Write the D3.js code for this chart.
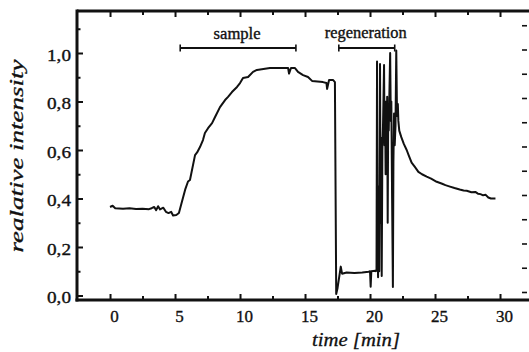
<!DOCTYPE html>
<html>
<head>
<meta charset="utf-8">
<script src="https://cdn.jsdelivr.net/npm/d3@7"></script>
<style>
  html, body { margin: 0; padding: 0; background: #fff; }
  svg { display: block; }
  svg text { font-family: "Liberation Serif", "DejaVu Serif", serif; }
</style>
</head>
<body>
<svg id="chart" width="529" height="352"></svg>
<script>
// ---------------- data ----------------
const timeMin = [
  0.0, 0.2, 0.4, 1.0, 1.5, 2.0, 2.5, 3.0, 3.2, 3.4, 3.55, 3.7, 3.85, 4.1, 4.3, 4.5, 4.7, 4.85, 5.1, 5.3,
  5.5, 5.8, 6.0, 6.15, 6.54, 6.7, 6.92, 7.15, 7.3, 7.54, 7.85, 8.08, 8.46, 8.85, 9.08, 9.38, 9.77, 10.0,
  10.23, 10.62, 11.0, 11.3, 12.3, 13.7, 13.77, 13.92, 14.23, 14.46, 14.85, 15.23, 15.54, 16.38, 16.65,
  16.7, 16.85, 17.15, 17.3,
  17.4, 17.5, 17.75, 17.85, 18.2, 18.8, 19.4, 19.9, 20.0, 20.05, 20.1, 20.4,
  20.45, 20.50, 20.54, 20.58, 20.62, 20.67, 20.71, 20.77, 20.82, 20.86, 20.90, 20.95, 21.00, 21.08,
  21.12, 21.16, 21.20, 21.24, 21.28, 21.32, 21.36, 21.40, 21.44, 21.48, 21.55, 21.60, 21.64, 21.70,
  21.76, 21.80, 21.85, 21.90, 21.96, 22.02, 22.07, 22.10, 22.14, 22.18, 22.25,
  22.4, 22.6, 22.82, 23.0, 23.2, 23.45, 23.72, 24.0, 24.36, 24.7, 25.13, 25.5, 25.8, 26.15, 26.5,
  26.9, 27.2, 27.44, 27.8, 28.1, 28.3, 28.5, 28.7, 28.9, 29.1, 29.3, 29.65
];
const intensity = [
  0.365, 0.37, 0.36, 0.358, 0.36, 0.357, 0.358, 0.356, 0.36, 0.365, 0.352, 0.368, 0.355, 0.362, 0.345, 0.34, 0.345, 0.33, 0.332, 0.34,
  0.38, 0.44, 0.47, 0.476, 0.579, 0.59, 0.612, 0.641, 0.67, 0.69, 0.711, 0.736, 0.777, 0.806, 0.819, 0.839, 0.86, 0.876,
  0.897, 0.901, 0.922, 0.93, 0.938, 0.938, 0.915, 0.938, 0.938, 0.922, 0.909, 0.901, 0.885, 0.88, 0.876,
  0.852, 0.889, 0.889, 0.88,
  0.006, 0.03, 0.119, 0.09, 0.095, 0.093, 0.095, 0.098, 0.1, 0.036, 0.1, 0.102,
  0.10, 0.105, 0.965, 0.20, 0.075, 0.45, 0.10, 0.955, 0.30, 0.65, 0.08, 0.60, 0.70, 0.95,
  0.62, 0.78, 0.50, 0.80, 0.65, 0.82, 0.30, 0.75, 0.68, 0.80, 1.0, 0.72, 0.80, 0.40,
  0.035, 0.55, 0.75, 0.62, 0.70, 1.01, 0.78, 0.74, 0.79, 0.72, 0.68,
  0.654, 0.625, 0.60, 0.575, 0.548, 0.53, 0.51, 0.50, 0.49, 0.482, 0.469, 0.462, 0.455, 0.449, 0.443,
  0.437, 0.433, 0.432, 0.426, 0.427, 0.42, 0.418, 0.413, 0.415, 0.404, 0.40, 0.40
];

const xTickValues = [0, 5, 10, 15, 20, 25, 30];
const xTickLabels = ["0", "5", "10", "15", "20", "25", "30"];
const xMinorValues = [2.5, 7.5, 12.5, 17.5, 22.5, 27.5];
const yTickValues = [0, 0.2, 0.4, 0.6, 0.8, 1.0];
const yTickLabels = ["0,0", "0,2", "0,4", "0,6", "0,8", "1,0"];
const yMinorValues = [0.1, 0.3, 0.5, 0.7, 0.9, 1.1];
const rightTickValues = [0, 0.1, 0.2, 0.3, 0.4, 0.5, 0.6, 0.7, 0.8, 0.9, 1.0, 1.1];

const phaseLabels = ["sample", "regeneration"];
const phaseStart = [5.4, 17.6];
const phaseEnd = [14.3, 21.9];

const xLabel = "time [min]";
const yLabel = "realative intensity";

(function () {
  // ---------------- layout ----------------
  const svg = d3.select("#chart");
  const pLeft = 77, pRight = 529, pTop = 11, pBottom = 300;

  const x = d3.scaleLinear().domain([-2.54, 32.23]).range([pLeft, pRight]);
  const y = d3.scaleLinear().domain([-0.0186, 1.1732]).range([pBottom, pTop]);

  const serif = '"Liberation Serif", "DejaVu Serif", serif';
  const ink = "#111";

  // frame lines
  svg.append("line").attr("x1", pLeft).attr("x2", pRight).attr("y1", pTop).attr("y2", pTop)
    .attr("stroke", ink).attr("stroke-width", 3);
  svg.append("line").attr("x1", pLeft).attr("x2", pLeft).attr("y1", pTop - 1.5).attr("y2", pBottom + 1.5)
    .attr("stroke", ink).attr("stroke-width", 3);
  svg.append("line").attr("x1", pLeft - 1.5).attr("x2", pRight).attr("y1", pBottom).attr("y2", pBottom)
    .attr("stroke", ink).attr("stroke-width", 3);

  function styleAxis(g) {
    g.attr("font-family", null);
    g.select(".domain").remove();
    g.selectAll(".tick line").attr("stroke", ink).attr("stroke-width", 2);
    g.selectAll("text").attr("fill", ink).style("font-family", serif)
      .attr("stroke", ink).attr("stroke-width", 0.35);
  }

  // bottom axis (ticks inward)
  const gx = svg.append("g").attr("transform", `translate(0,${pBottom})`)
    .call(d3.axisBottom(x).tickValues(xTickValues).tickSize(-6).tickPadding(10)
      .tickFormat((d, i) => xTickLabels[i]))
    .call(styleAxis);
  gx.selectAll("text").style("font-size", "17px").attr("dx", 4).attr("dy", "0.72em");

  svg.append("g").attr("transform", `translate(0,${pBottom})`)
    .call(d3.axisBottom(x).tickValues(xMinorValues).tickSize(-4).tickFormat(""))
    .call(styleAxis);

  // top axis ticks (inward)
  svg.append("g").attr("transform", `translate(0,${pTop})`)
    .call(d3.axisTop(x).tickValues(xTickValues).tickSize(-6).tickFormat(""))
    .call(styleAxis);
  svg.append("g").attr("transform", `translate(0,${pTop})`)
    .call(d3.axisTop(x).tickValues(xMinorValues).tickSize(-4).tickFormat(""))
    .call(styleAxis);

  // left axis (ticks inward)
  const gy = svg.append("g").attr("transform", `translate(${pLeft},0)`)
    .call(d3.axisLeft(y).tickValues(yTickValues).tickSize(-6).tickPadding(6)
      .tickFormat((d, i) => yTickLabels[i]))
    .call(styleAxis);
  gy.selectAll("text").style("font-size", "17px").attr("textLength", 24)
    .attr("lengthAdjust", "spacingAndGlyphs").attr("dy", "0.42em");

  svg.append("g").attr("transform", `translate(${pLeft},0)`)
    .call(d3.axisLeft(y).tickValues(yMinorValues).tickSize(-3.5).tickFormat(""))
    .call(styleAxis);

  // right side ticks (axis line off-canvas)
  svg.append("g").attr("transform", `translate(527,-3.5)`)
    .call(d3.axisRight(y).tickValues(rightTickValues).tickSize(-5).tickFormat(""))
    .call(styleAxis)
    .selectAll(".tick line").attr("stroke-width", 1.6);

  // data trace
  const pts = timeMin.map((t, i) => [t, intensity[i]]);
  svg.append("path")
    .datum(pts)
    .attr("fill", "none")
    .attr("stroke", ink)
    .attr("stroke-width", 2)
    .attr("stroke-linejoin", "round")
    .attr("d", d3.line().x(d => x(d[0])).y(d => y(d[1])));

  // phase brackets
  const bracketY = 48;
  const labelWidths = [47, 82];
  const labelY = [39, 38];
  phaseLabels.forEach((lab, i) => {
    const x1 = x(phaseStart[i]), x2 = x(phaseEnd[i]);
    svg.append("line").attr("x1", x1).attr("x2", x2).attr("y1", bracketY).attr("y2", bracketY)
      .attr("stroke", ink).attr("stroke-width", 2);
    [x1, x2].forEach(xx => svg.append("line").attr("x1", xx).attr("x2", xx)
      .attr("y1", bracketY - 3.5).attr("y2", bracketY + 3.5)
      .attr("stroke", ink).attr("stroke-width", 1.6));
    svg.append("text")
      .attr("x", (x1 + x2) / 2 - 1)
      .attr("y", labelY[i])
      .attr("text-anchor", "middle")
      .attr("textLength", labelWidths[i])
      .attr("lengthAdjust", "spacingAndGlyphs")
      .style("font-family", serif)
      .style("font-size", "16px")
      .attr("fill", ink).attr("stroke", ink).attr("stroke-width", 0.35)
      .text(lab);
  });

  // axis titles
  svg.append("text")
    .attr("x", 356).attr("y", 346)
    .attr("text-anchor", "middle")
    .attr("textLength", 88).attr("lengthAdjust", "spacingAndGlyphs")
    .style("font-family", serif).style("font-style", "italic").style("font-size", "19px")
    .attr("fill", ink).attr("stroke", ink).attr("stroke-width", 0.3)
    .text(xLabel);

  svg.append("text")
    .attr("transform", "translate(23,156) rotate(-90)")
    .attr("text-anchor", "middle")
    .attr("textLength", 193).attr("lengthAdjust", "spacingAndGlyphs")
    .style("font-family", serif).style("font-style", "italic").style("font-size", "19px")
    .attr("fill", ink).attr("stroke", ink).attr("stroke-width", 0.3)
    .text(yLabel);
})();
</script>
</body>
</html>
